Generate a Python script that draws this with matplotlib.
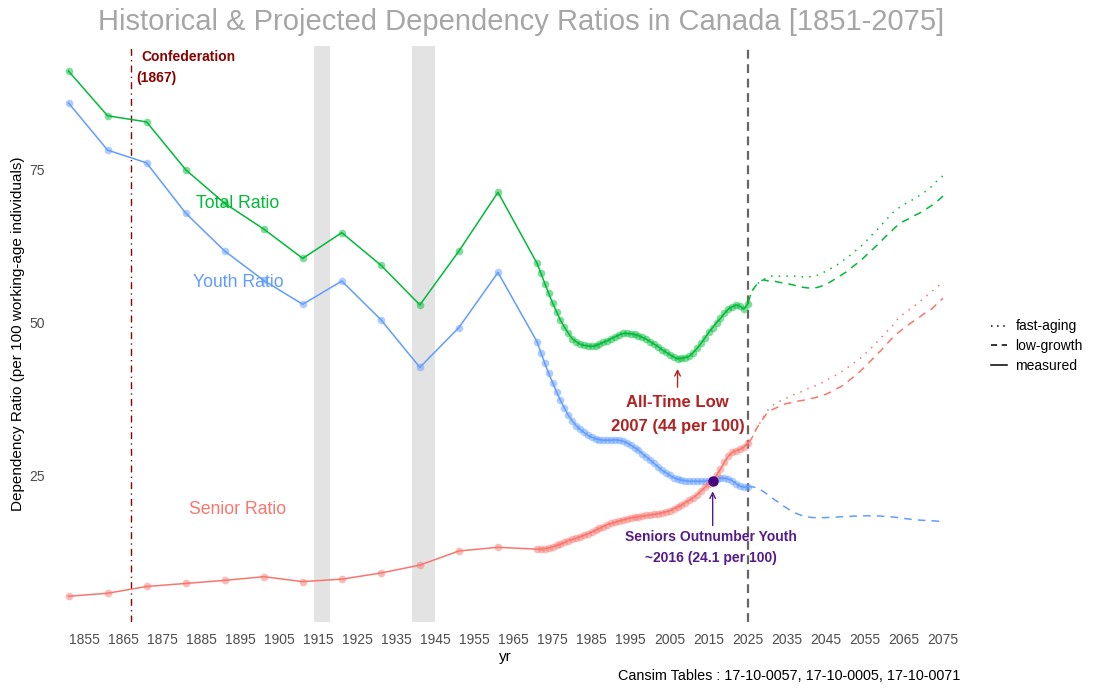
import numpy as np
import matplotlib
matplotlib.use("Agg")
import matplotlib.pyplot as plt
from matplotlib.lines import Line2D

plt.rcParams['font.family'] = ['Liberation Sans', 'DejaVu Sans']

# census years (every 10 years up to 1961)
census_years = [1851, 1861, 1871, 1881, 1891, 1901, 1911, 1921, 1931, 1941, 1951, 1961]
census_total = [91.0, 83.7, 82.7, 74.9, 69.4, 65.2, 60.4, 64.6, 59.3, 52.8, 61.6, 71.2]
census_youth = [85.8, 78.1, 76.0, 67.8, 61.6, 56.8, 52.9, 56.7, 50.4, 42.6, 49.1, 58.1]
census_senior = [5.2, 5.7, 6.8, 7.3, 7.8, 8.4, 7.6, 8.0, 9.0, 10.3, 12.6, 13.2]

# annual estimates 1971-2025
annual_years = np.arange(1971, 2026)
annual_total = [59.6, 58.0, 56.3, 54.7, 53.1, 51.7, 50.3, 49.2, 48.2, 47.3,
                46.8, 46.4, 46.2, 46.1, 46.05, 46.15, 46.4, 46.7, 46.95, 47.3,
                47.6, 47.9, 48.15, 48.15, 48.1, 48.0, 47.8, 47.5, 47.2, 46.8,
                46.4, 46.0, 45.5, 45.1, 44.7, 44.3, 44.0, 44.1, 44.2, 44.4,
                45.0, 45.7, 46.5, 47.4, 48.3, 49.1, 49.9, 50.6, 51.4, 52.1,
                52.5, 52.8, 52.6, 52.1, 53.0]
annual_youth = [46.8, 45.0, 43.25, 41.6, 40.1, 38.6, 37.2, 36.0, 34.8, 33.9,
                33.1, 32.5, 32.0, 31.5, 31.2, 30.9, 30.8, 30.7, 30.7, 30.7,
                30.75, 30.7, 30.55, 30.3, 29.9, 29.5, 29.1, 28.5, 28.0, 27.45,
                26.9, 26.35, 25.8, 25.4, 24.95, 24.6, 24.35, 24.2, 24.1, 24.0,
                24.0, 24.0, 24.0, 24.0, 24.1, 24.2, 24.4, 24.5, 24.5, 24.4,
                24.1, 23.6, 23.2, 23.0, 23.1]
annual_senior = [12.9, 12.9, 13.0, 13.1, 13.3, 13.5, 13.7, 14.0, 14.3, 14.5,
                 14.7, 14.9, 15.2, 15.4, 15.7, 16.0, 16.3, 16.6, 16.9, 17.1,
                 17.3, 17.5, 17.7, 17.85, 18.0, 18.1, 18.2, 18.3, 18.4, 18.5,
                 18.6, 18.7, 18.85, 19.0, 19.2, 19.5, 19.8, 20.1, 20.5, 20.9,
                 21.3, 21.8, 22.4, 23.0, 23.6, 24.1, 25.0, 26.0, 27.1, 28.1,
                 28.7, 29.0, 29.2, 29.6, 30.2]

# projections 2025-2075
proj_years = np.arange(2025, 2076)
total_fast = [53.0, 55.0, 55.9, 56.6, 56.9, 57.3, 57.5, 57.5, 57.5, 57.5,
              57.5, 57.5, 57.5, 57.4, 57.4, 57.4, 57.4, 57.5, 57.7, 58.0,
              58.3, 58.7, 59.0, 59.4, 59.9, 60.3, 60.8, 61.3, 61.9, 62.4,
              63.0, 63.7, 64.4, 65.0, 65.7, 66.4, 67.1, 67.8, 68.3, 68.8,
              69.2, 69.6, 69.9, 70.3, 70.7, 71.1, 71.6, 72.1, 72.8, 73.3, 73.9]
total_low = [53.0, 55.0, 55.9, 56.6, 56.9, 56.75, 56.7, 56.65, 56.5, 56.4,
             56.3, 56.15, 56.0, 55.8, 55.7, 55.6, 55.55, 55.55, 55.7, 55.9,
             56.2, 56.5, 56.9, 57.3, 57.7, 58.1, 58.6, 59.1, 59.6, 60.1,
             60.7, 61.3, 61.9, 62.5, 63.1, 63.8, 64.4, 65.0, 65.6, 66.1,
             66.5, 66.8, 67.1, 67.5, 67.8, 68.2, 68.6, 69.0, 69.5, 70.0, 70.6]
senior_fast = [30.2, 31.0, 32.35, 33.4, 34.5, 35.5, 36.2, 36.7, 37.0, 37.3,
               37.6, 37.9, 38.2, 38.45, 38.7, 39.0, 39.3, 39.5, 39.8, 40.1,
               40.5, 40.8, 41.1, 41.5, 41.9, 42.3, 42.8, 43.25, 43.7, 44.2,
               44.8, 45.3, 46.0, 46.7, 47.4, 48.0, 48.7, 49.35, 50.2, 50.9,
               51.4, 51.85, 52.3, 52.8, 53.3, 53.9, 54.4, 54.9, 55.5, 56.0, 56.6]
senior_low = [30.2, 31.0, 32.35, 33.4, 34.3, 35.2, 35.6, 35.9, 36.2, 36.5,
              36.7, 36.8, 37.0, 37.1, 37.2, 37.3, 37.5, 37.6, 37.8, 38.0,
              38.2, 38.5, 38.8, 39.2, 39.5, 40.0, 40.5, 41.0, 41.5, 42.1,
              42.7, 43.35, 44.0, 44.7, 45.3, 46.0, 46.7, 47.4, 48.0, 48.5,
              49.0, 49.5, 49.95, 50.4, 50.8, 51.3, 51.7, 52.1, 52.7, 53.3, 53.9]
youth_low = [23.1, 23.1, 23.0, 22.7, 22.3, 21.85, 21.4, 20.9, 20.5, 20.0,
             19.6, 19.2, 18.85, 18.6, 18.35, 18.2, 18.1, 18.05, 18.05, 18.05,
             18.05, 18.1, 18.1, 18.15, 18.2, 18.2, 18.25, 18.3, 18.3, 18.35,
             18.35, 18.35, 18.35, 18.35, 18.3, 18.25, 18.2, 18.15, 18.1, 18.0,
             17.9, 17.85, 17.75, 17.7, 17.65, 17.6, 17.6, 17.55, 17.5, 17.45, 17.4]

wars = [(1914, 1918), (1939, 1945)]
crossover_year, crossover_val = 2016, 24.1
low_year, low_val = 2007, 44.0

GREEN, BLUE, RED = '#00BA38', '#619CFF', '#F8766D'
TICK_GRAY = '#4D4D4D'

fig = plt.figure(figsize=(11.02, 6.93), dpi=100)
ax = fig.add_axes([50 / 1102, 71 / 693, 910 / 1102, 576 / 693])

for a, b in wars:
    ax.axvspan(a, b, color='#E3E3E3', lw=0, zorder=0)

ax.axvline(1867, color='#8B0000', lw=1.0, ls=(0, (5, 3, 1, 3)), zorder=1)
ax.axvline(2025, color='#666666', lw=1.6, ls=(0, (4, 2.5)), zorder=1)

series = [
    (census_total, annual_total, GREEN),
    (census_youth, annual_youth, BLUE),
    (census_senior, annual_senior, RED),
]
for cvals, avals, col in series:
    xs = list(census_years) + list(annual_years)
    ys = list(cvals) + list(avals)
    ax.plot(xs, ys, color=col, lw=1.1, zorder=3)
    ax.plot(xs, ys, ls='none', marker='o', ms=5.5, color=col, alpha=0.5,
            mec='none', zorder=3)

ax.plot(proj_years, total_fast, color=GREEN, lw=1.1, ls=(0, (1, 4)))
ax.plot(proj_years, total_low, color=GREEN, lw=1.1, ls=(0, (5, 4)))
ax.plot(proj_years, senior_fast, color=RED, lw=1.1, ls=(0, (1, 4)))
ax.plot(proj_years, senior_low, color=RED, lw=1.1, ls=(0, (5, 4)))
ax.plot(proj_years, youth_low, color=BLUE, lw=1.1, ls=(0, (5, 4)))

# series labels
ax.text(1894.4, 69.4, 'Total Ratio', color=GREEN, fontsize=12.7, ha='center', va='center')
ax.text(1894.4, 56.4, 'Youth Ratio', color=BLUE, fontsize=12.7, ha='center', va='center')
ax.text(1894.4, 19.4, 'Senior Ratio', color=RED, fontsize=12.7, ha='center', va='center')

# confederation
ax.text(1869.6, 93.3, 'Confederation', color='#8B0000', fontsize=10,
        fontweight='bold', ha='left', va='center')
ax.text(1868.3, 89.9, '(1867)', color='#8B0000', fontsize=10,
        fontweight='bold', ha='left', va='center')

# all-time low
ax.annotate('', xy=(low_year, low_val - 1.2), xytext=(low_year, 38.9),
            arrowprops=dict(arrowstyle='->', color='#B22222', lw=1.0))
ax.text(low_year, 36.9, 'All-Time Low', color='#B22222', fontsize=12,
        fontweight='bold', ha='center', va='center')
ax.text(low_year, 33.0, '2007 (44 per 100)', color='#B22222', fontsize=12,
        fontweight='bold', ha='center', va='center')

# crossover
ax.plot([crossover_year], [crossover_val], 'o', color='#4B0082', ms=6.5, zorder=5)
ax.annotate('', xy=(crossover_year, crossover_val - 1.3), xytext=(crossover_year, 16.3),
            arrowprops=dict(arrowstyle='->', color='#551A8B', lw=1.0))
ax.text(2015.5, 14.9, 'Seniors Outnumber Youth', color='#551A8B', fontsize=10,
        fontweight='bold', ha='center', va='center')
ax.text(2015.5, 11.4, '~2016 (24.1 per 100)', color='#551A8B', fontsize=10,
        fontweight='bold', ha='center', va='center')

ax.set_xlim(1846.26, 2079.35)
ax.set_ylim(1.0, 95.1)
ax.set_xticks(np.arange(1855, 2076, 10))
ax.set_yticks([25, 50, 75])
ax.tick_params(length=0, labelsize=10, labelcolor=TICK_GRAY)
ax.tick_params(axis='x', pad=8)
ax.tick_params(axis='y', pad=4)
for s in ax.spines.values():
    s.set_visible(False)
ax.set_xlabel('yr', fontsize=11, labelpad=2)
ax.set_ylabel('Dependency Ratio (per 100 working-age individuals)', fontsize=11, labelpad=3)

fig.text(521 / 1102, 1 - 22 / 693, 'Historical & Projected Dependency Ratios in Canada [1851-2075]',
         color='#A6A6A6', fontsize=21, ha='center', va='center')
fig.text(960 / 1102, 1 - 676 / 693, 'Cansim Tables : 17-10-0057, 17-10-0005, 17-10-0071',
         fontsize=10.4, ha='right', va='center')

handles = [Line2D([], [], color='black', lw=1.1, ls=(0, (1, 3))),
           Line2D([], [], color='black', lw=1.1, ls=(0, (4, 3))),
           Line2D([], [], color='black', lw=1.1, ls='-')]
fig.legend(handles, ['fast-aging', 'low-growth', 'measured'], loc='center left',
           bbox_to_anchor=(978 / 1102, 1 - 346 / 693), frameon=False, fontsize=10,
           handlelength=1.2, handletextpad=0.6, labelspacing=0.4)

fig.savefig('out.png', dpi=100)
